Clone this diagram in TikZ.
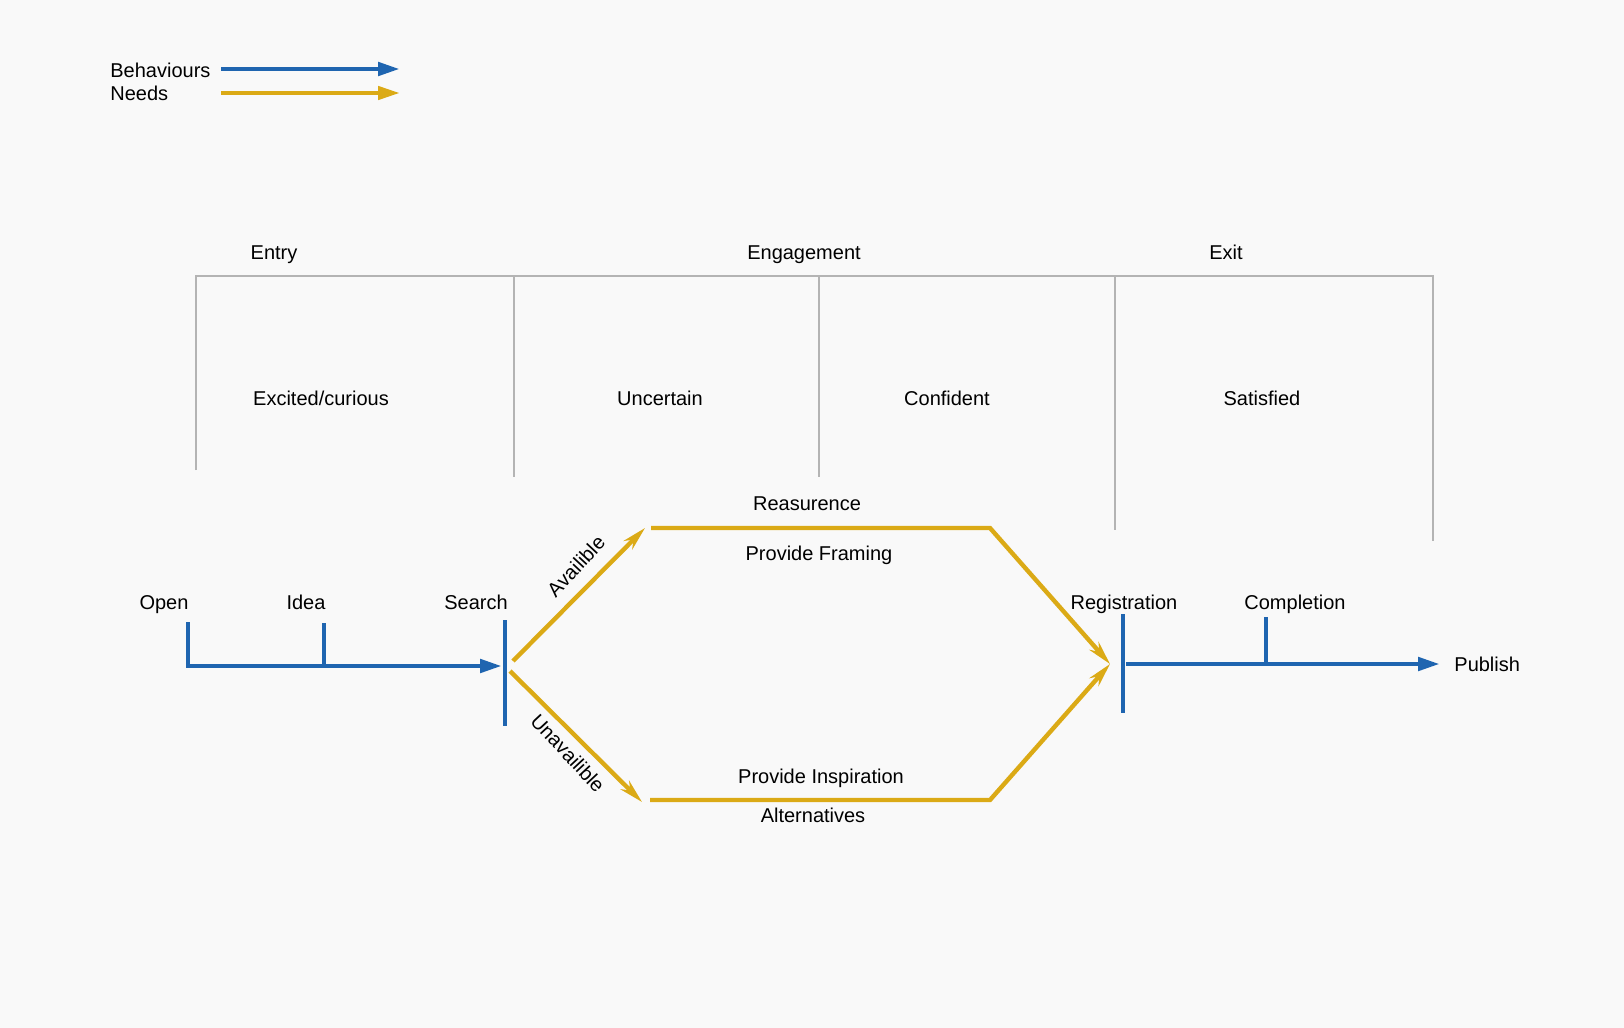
\documentclass[tikz,border=0pt]{standalone}
\usepackage{fontspec}
\setmainfont{Liberation Sans}
\usetikzlibrary{arrows.meta}
\definecolor{behblue}{RGB}{31,101,176}
\definecolor{needgold}{RGB}{219,170,22}
\definecolor{rulegray}{RGB}{180,180,180}
\definecolor{paper}{RGB}{249,249,249}
\tikzset{
  lbl/.style={inner sep=0pt,text height=7.2pt,text depth=0pt,font=\fontsize{10}{12}\selectfont},
  behav/.style={line width=2.4pt,behblue},
  need/.style={line width=2.2pt,needgold},
  phase/.style={line width=0.8pt,rulegray},
  btip/.style={-{Triangle[length=11pt,width=6.5pt]}},
  ntip/.style={-{Stealth[length=12pt,width=6pt]}}
}
\begin{document}
\begin{tikzpicture}[x=0.5pt,y=-0.5pt]
%BACKGROUND
\fill [paper] (0,0) rectangle (1624,1028);
%LEGEND
\node [lbl,anchor=west] (beh) at (110,70) {Behaviours};
\node [lbl,anchor=west] (nds) at (110,93) {Needs};
\coordinate (legBs) at (221,69); \coordinate (legBe) at (400,69);
\coordinate (legNs) at (221,93); \coordinate (legNe) at (400,93);
\draw [behav,btip] (legBs) -- (legBe);
\draw [need,btip] (legNs) -- (legNe);
%PHASES
\node [lbl] (entry) at (274,252) {Entry};
\node [lbl] (engage) at (804,252) {Engagement};
\node [lbl] (exit) at (1226,252) {Exit};
\draw [phase] (196,470) -- (196,276) -- (1433,276) -- (1433,541);
\foreach \x/\y in {514/477,819/477,1115/530}
  \draw [phase] (\x,276) -- (\x,\y);
%FEELINGS
\node [lbl] (excited) at (321,398) {Excited/curious};
\node [lbl] (uncert) at (660,398) {Uncertain};
\node [lbl] (confid) at (947,398) {Confident};
\node [lbl] (satisf) at (1262,398) {Satisfied};
%BEHAVIOURS BEFORE SEARCH
\node [lbl] (open) at (164,602) {Open};
\node [lbl] (idea) at (306,602) {Idea};
\node [lbl] (search) at (476,602) {Search};
\coordinate (openT) at (188,622);
\coordinate (ideaT) at (324,623);
\coordinate (srchIn) at (502,666);
\coordinate (srchT) at (505,620);
\coordinate (srchB) at (505,726);
\draw [behav,btip] (openT) |- (srchIn);
\draw [behav] (ideaT) -- (ideaT |- srchIn);
\draw [behav] (srchT) -- (srchB);
%NEEDS
\coordinate (upS) at (513,661); \coordinate (upE) at (645,528);
\coordinate (dnS) at (510,671); \coordinate (dnE) at (642,802);
\coordinate (topL) at (651,528); \coordinate (topR) at (990,528);
\coordinate (botL) at (650,800); \coordinate (botR) at (990,800);
\coordinate (regIn) at (1110,664);
\draw [need,ntip] (upS) -- (upE);
\draw [need,ntip] (dnS) -- (dnE);
\draw [need,ntip] (topL) -- (topR) -- (regIn);
\draw [need,ntip] (botL) -- (botR) -- (regIn);
\node [lbl,rotate=47] (avail) at (576,566) {Availible};
\node [lbl,rotate=-47] (unavail) at (568,753) {Unavailible};
\node [lbl] (reass) at (807,503) {Reasurence};
\node [lbl] (framing) at (819,553) {Provide Framing};
\node [lbl] (inspir) at (821,776) {Provide Inspiration};
\node [lbl] (altern) at (813,815) {Alternatives};
%BEHAVIOURS AFTER REGISTRATION
\node [lbl] (reg) at (1124,602) {Registration};
\node [lbl] (comp) at (1295,602) {Completion};
\node [lbl,anchor=west] (pub) at (1454,664) {Publish};
\coordinate (regT) at (1123,614);
\coordinate (regB) at (1123,713);
\coordinate (regOut) at (1126,664);
\coordinate (compT) at (1266,617);
\draw [behav] (regT) -- (regB);
\draw [behav,btip] (regOut) -- ([xshift=-7pt]pub.west);
\draw [behav] (compT) -- (compT |- regOut);
\end{tikzpicture}
\end{document}
